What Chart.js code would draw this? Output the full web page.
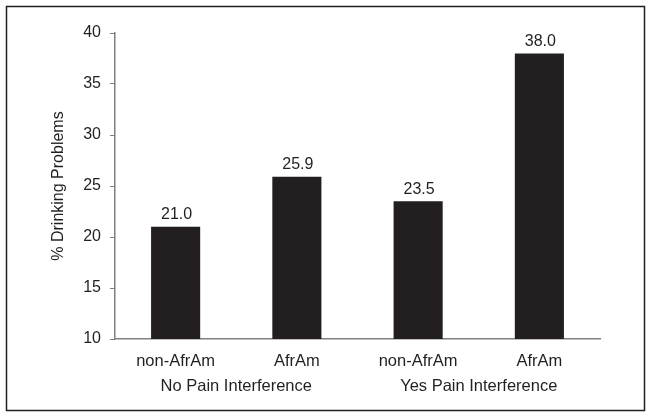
<!DOCTYPE html>
<html>
<head>
<meta charset="utf-8">
<script src="https://cdn.jsdelivr.net/npm/chart.js@4/dist/chart.umd.min.js"></script>
<style>
  html, body { margin: 0; padding: 0; background: #fff; }
  #wrap { width: 651px; height: 419px; }
</style>
</head>
<body>
<div id="wrap"><canvas id="drinkChart" width="651" height="419"></canvas></div>
<script>
const categories = ['non-AfrAm', 'AfrAm', 'non-AfrAm', 'AfrAm'];
const groups = ['No Pain Interference', 'Yes Pain Interference'];
const values = [21.0, 25.9, 23.5, 38.0];

const ink = '#231f20';
const fontFamily = '"Liberation Sans", Arial, sans-serif';

// frame round the whole figure + numbers above the bars
const extras = {
    id: 'extras',
    afterDraw(chart) {
        const ctx = chart.ctx;
        ctx.save();
        ctx.strokeStyle = ink;
        ctx.lineWidth = 1.5;
        ctx.strokeRect(6.5, 6.5, 638, 404);

        ctx.fillStyle = ink;
        ctx.font = '16px ' + fontFamily;
        ctx.textAlign = 'center';
        ctx.textBaseline = 'bottom';
        chart.getDatasetMeta(0).data.forEach((bar, i) => {
            ctx.fillText(values[i].toFixed(1), bar.x + 1, bar.y - 4);
        });
        ctx.restore();
    }
};

new Chart(document.getElementById('drinkChart'), {
    type: 'bar',
    data: {
        labels: categories,
        datasets: [{
            data: values,
            backgroundColor: ink,
            borderWidth: 0,
            barPercentage: 0.405,
            categoryPercentage: 1
        }]
    },
    options: {
        responsive: false,
        animation: false,
        events: [],
        layout: { padding: { left: 0, right: 51, top: 33, bottom: 17 } },
        plugins: {
            legend: { display: false },
            tooltip: { enabled: false }
        },
        scales: {
            y: {
                min: 10,
                max: 40,
                ticks: {
                    stepSize: 5,
                    padding: 9,
                    color: ink,
                    font: { size: 16, family: fontFamily }
                },
                grid: { display: true, drawOnChartArea: false, tickLength: 5, color: '#808080' },
                border: { color: '#808080', width: 1.5 },
                title: {
                    display: true,
                    text: '% Drinking Problems',
                    color: ink,
                    font: { size: 16, family: fontFamily },
                    padding: { top: 49, bottom: 0 }
                },
                afterFit(scale) { scale.width = 115; }
            },
            x: {
                ticks: {
                    padding: 13,
                    maxRotation: 0,
                    color: ink,
                    font: { size: 16.5, family: fontFamily }
                },
                grid: { display: false, drawTicks: false },
                border: { color: '#808080', width: 1.5 },
                afterFit(scale) { scale.height = 33; }
            },
            x2: {
                type: 'category',
                position: 'bottom',
                labels: groups,
                offset: true,
                ticks: {
                    padding: 5,
                    maxRotation: 0,
                    color: ink,
                    font: { size: 16.5, family: fontFamily }
                },
                grid: { display: false, drawTicks: false },
                border: { display: false },
                afterFit(scale) { scale.height = 30; }
            }
        }
    },
    plugins: [extras]
});
</script>
</body>
</html>
